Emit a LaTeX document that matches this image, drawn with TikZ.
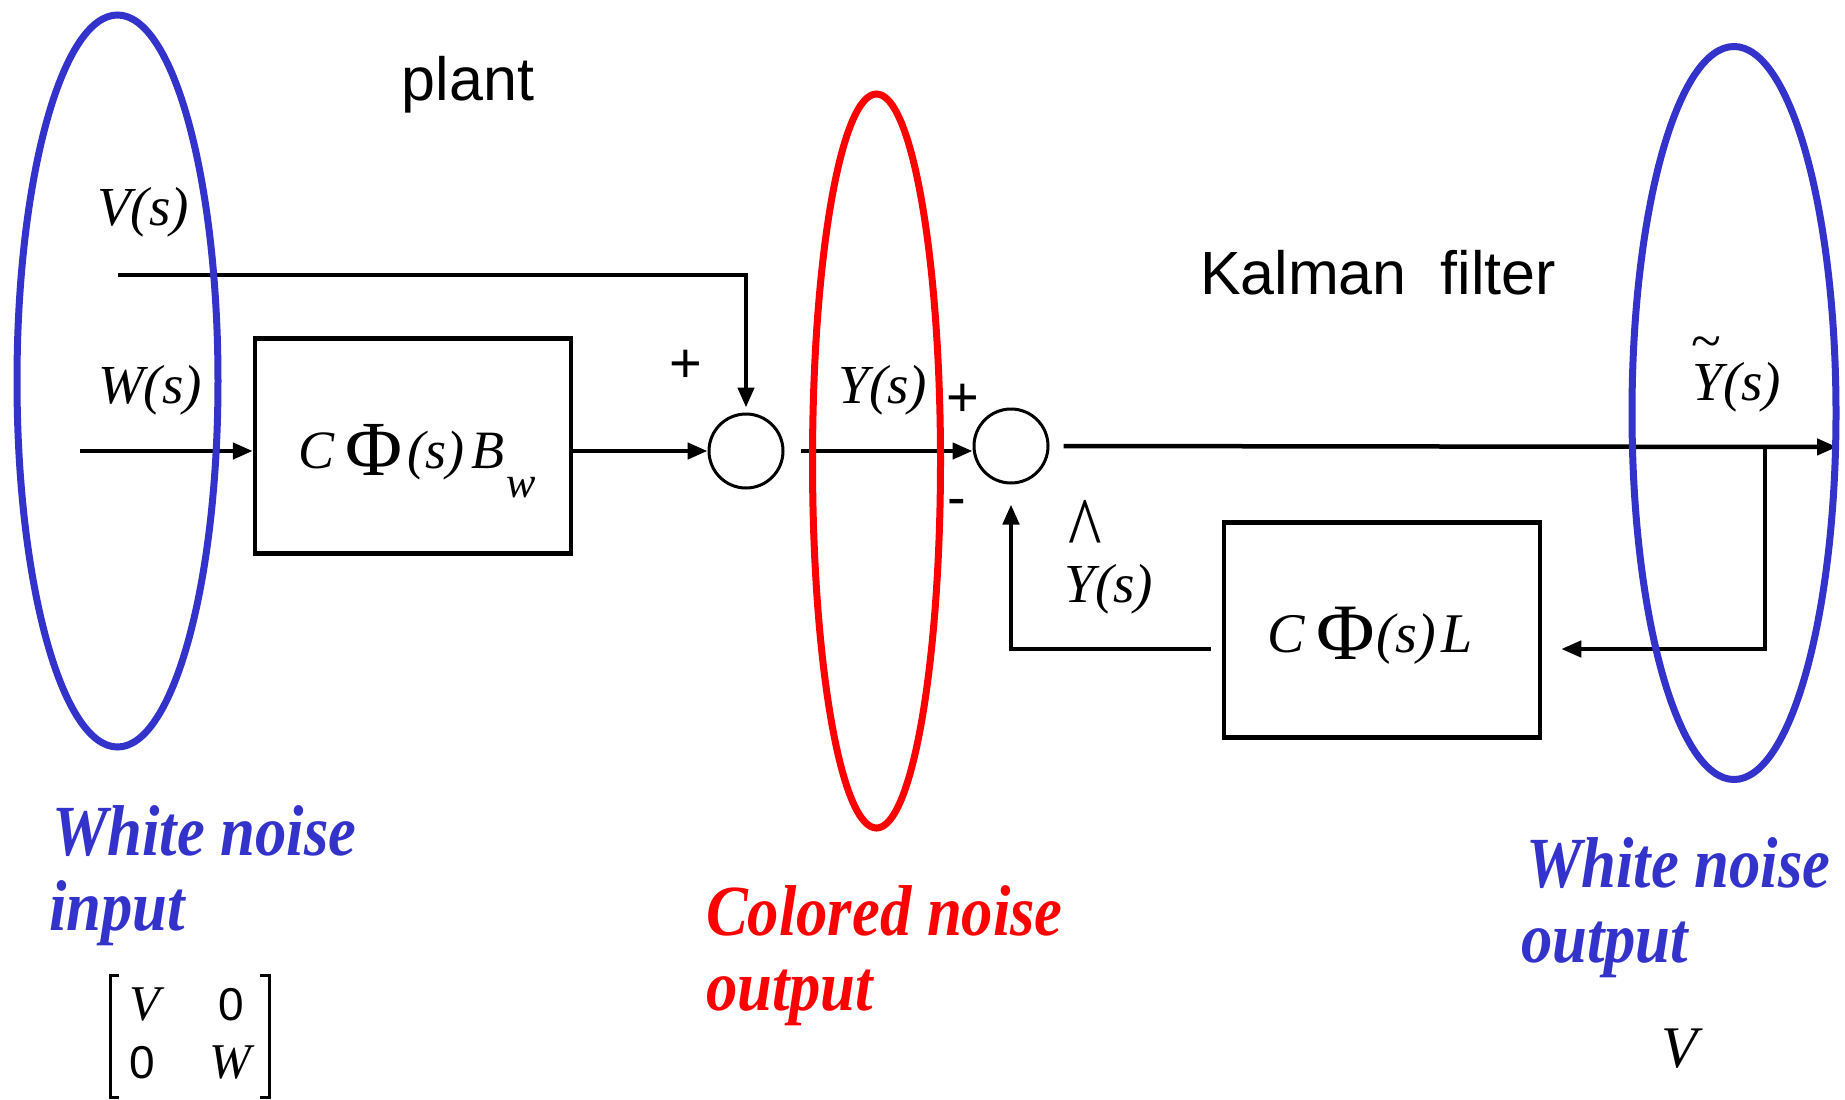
\documentclass[tikz,border=0pt]{standalone}
\usepackage{graphicx}
\usepackage{fontspec}
\setmainfont{Liberation Serif}
\newfontfamily\sansf{Liberation Sans}
\usetikzlibrary{shapes.geometric,arrows.meta}
\definecolor{nblue}{RGB}{51,51,204}
\definecolor{nred}{RGB}{255,0,0}
\newcommand\mfont{\fontsize{55}{55}\selectfont\itshape}
\newcommand\bnfont{\fontsize{72}{72}\selectfont\bfseries\itshape}
\newcommand\bnlab[1]{\scalebox{0.87}[1]{#1}}
\begin{document}
\begin{tikzpicture}[x=1pt,y=-1pt,
  conn/.style={line width=4.5pt},
  arr/.style={conn,-{Triangle[length=20pt,width=16pt]}},
  blk/.style={draw,line width=4.5pt,minimum width=316pt,minimum height=215pt,inner sep=0pt},
  sumc/.style={draw,circle,line width=3pt,minimum size=74pt,inner sep=0pt},
  ell/.style={draw,ellipse,line width=7pt,inner sep=0pt},
  brk/.style={line width=3pt},
  txt/.style={inner sep=0pt,outer sep=0pt},
  sans/.style={txt,font=\sansf\fontsize{61}{61}\selectfont},
  sign/.style={txt,font=\sansf\fontsize{56}{56}\selectfont,anchor=base},
  ment/.style={txt,anchor=base,font=\fontsize{50}{50}\selectfont\itshape},
  mnum/.style={txt,anchor=base,font=\sansf\fontsize{46}{46}\selectfont},
  blab/.style={txt,text=nblue,font=\bnfont,anchor=base west},
  rlab/.style={txt,text=nred,font=\bnfont,anchor=base west}
]
\useasboundingbox (0,0) rectangle (1845,1100);

% blocks and summing junctions
\node[blk] (bw) at (413,446) {};
\node[blk] (bl) at (1382,630) {};
\node[sumc] (s1) at (746,451) {};
\node[sumc] (s2) at (1011,446) {};

% free ends
\coordinate (win) at (80,451);
\coordinate (vin) at (118,275);
\coordinate (yout) at (1837,447);
\coordinate (br) at (1765,447);
\coordinate (fb) at (1765,649);

% connectors
\draw[arr] (win) -- (win -| bw.west);
\draw[arr] (bw.east |- s1.west) -- (s1.west);
\draw[arr,shorten >=5pt] (vin) -| (s1.north);
\draw[arr,shorten <=16pt] (s1.east) -- (s2.west |- s1.east);
\draw[arr,shorten <=14pt] (s2.east) -- (yout);
\draw[arr] (br) -- (fb) -- ([xshift=19pt]bl.east |- fb);
\draw[arr,shorten >=20pt] ([xshift=-11pt]bl.west |- fb) -| (s2.south);

% block texts
\node[txt,anchor=base west] (bwtxt) at (298,468) {\fontsize{54}{54}\selectfont\itshape C\hspace{11pt}\raisebox{-7pt}{\upshape\fontsize{78}{78}\selectfont Φ}\hspace{5pt}(s)\hspace{8pt}B\hspace{2pt}\raisebox{-29pt}{\fontsize{44}{44}\selectfont w}};
\node[txt,anchor=base west] (ltxt) at (1267,652) {\fontsize{56}{56}\selectfont\itshape C\hspace{12pt}\raisebox{-7pt}{\upshape\fontsize{80}{80}\selectfont Φ}\hspace{2pt}(s)\hspace{6pt}L};

% signal labels
\node[txt,anchor=base] (vlab) at (143,225) {\mfont V(s)};
\node[txt,anchor=base] (wlab) at (150,403) {\mfont W(s)};
\node[txt,anchor=base] (ylab) at (883,403) {\mfont Y(s)};
\node[txt,anchor=base] (yhlab) at (1109,602) {\mfont\makebox[0pt][l]{\hspace{4pt}\raisebox{42pt}{\upshape\scalebox{1.05}[1.35]{\fontsize{68}{68}\selectfont\textasciicircum}}}Y(s)};
\node[txt,anchor=base] (ytlab) at (1737,400) {\mfont\makebox[0pt][l]{\hspace{-1pt}\raisebox{41pt}{\upshape\textasciitilde}}Y(s)};
\node[sign] (p1) at (686,382) {+};
\node[sign] (p2) at (963,416) {+};
\node[sign] (m2) at (957,516) {-};

% titles
\node[sans,anchor=base] (plant) at (468,100) {plant};
\node[sans,anchor=base] (kf) at (1378,294) {Kalman~~filter};

% bottom labels
\node[blab] (wni) at (52,855) {\bnlab{White noise}};
\node[blab] (inp) at (49,930) {\bnlab{input}};
\node[rlab] (cno) at (706,935) {\bnlab{Colored noise}};
\node[rlab] (cout) at (706,1010) {\bnlab{output}};
\node[blab] (wno) at (1526,887) {\bnlab{White noise}};
\node[blab] (wout) at (1521,962) {\bnlab{output}};
\node[txt,anchor=base] (vcov) at (1680,1067) {\fontsize{59}{59}\selectfont\itshape V};

% covariance matrix
\node[ment] (m11) at (145,1020) {V};
\node[mnum] (m12) at (231,1020) {0};
\node[mnum] (m21) at (142,1078) {0};
\node[ment] (m22) at (230,1078) {W};
\draw[brk] (119,975) -- (110,975) -- (110,1097) -- (119,1097);
\draw[brk] (260,975) -- (269,975) -- (269,1097) -- (260,1097);

% noise ellipses
\node[ell,draw=nblue,minimum width=201pt,minimum height=732pt] (inE) at (117.5,381) {};
\node[ell,draw=nred,minimum width=128pt,minimum height=734pt] (colE) at (876.5,461) {};
\node[ell,draw=nblue,minimum width=204pt,minimum height=733pt] (outE) at (1734,413) {};
\end{tikzpicture}
\end{document}
